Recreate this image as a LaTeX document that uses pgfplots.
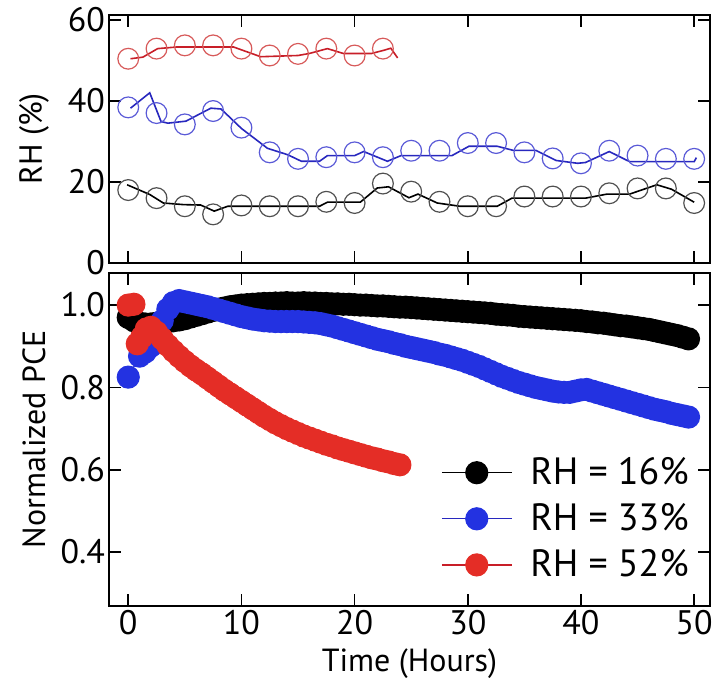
\documentclass[border=0pt]{standalone}
\usepackage{fontspec}
\setmainfont{PT Sans}
\usepackage{pgfplots}
\pgfplotsset{compat=1.18}
\definecolor{cblue}{RGB}{35,50,225}
\definecolor{cred}{RGB}{228,45,38}
\definecolor{lblue}{RGB}{40,40,190}
\definecolor{lred}{RGB}{200,30,40}
\definecolor{oblue}{RGB}{90,90,215}
\definecolor{ored}{RGB}{215,90,90}
\definecolor{oblack}{RGB}{80,80,80}

\pgfplotsset{
  myaxis/.style={
    scale only axis, width=300.5pt,
    xmin=-1.7, xmax=51.4,
    axis line style={line width=1.4pt},
    every tick/.style={line width=0.8pt, black},
    major tick length=6pt,
    tick align=inside,
    xtick={0,10,20,30,40,50},
    /pgf/number format/assume math mode=true,
    tick label style={font=\fontsize{17}{19}\selectfont},
    yticklabel style={xshift=1.5pt},
    xticklabel style={yshift=1.5pt},
    every axis y label/.style={at={(axis description cs:-0.125,0.5)}, rotate=90, anchor=center, font=\fontsize{16}{18}\selectfont},
    every axis x label/.style={at={(axis description cs:0.5,-0.172)}, anchor=center, font=\fontsize{16}{18}\selectfont},
  }
}

\begin{document}
\begin{tikzpicture}
\path[use as bounding box] (-54.5pt,-38.5pt) rectangle (301.5pt,303pt);

% ---------- top panel ----------
\begin{axis}[myaxis, at={(0pt,171.5pt)}, anchor=south west,
  height=124pt, ymin=0, ymax=61.2,
  ytick={0,20,40,60}, xticklabels={}, ylabel={RH (\%)}]
% lines
\addplot[lred, line width=0.8pt] coordinates {
(0.2,50.4) (1.3,50.8) (2.6,52.9) (4.3,53.3) (9.3,53.3) (10.5,52.1) (11.7,50.9)
(15,51.2) (16,51.7) (17.6,52.9) (19,51.7) (21.5,51.7) (22.6,52.5) (23.2,53.0) (23.8,50.6)};
\addplot[lblue, line width=0.8pt] coordinates {
(0.2,38.2) (1.9,42.0) (2.9,34.9) (3.5,34.5) (5.1,35.0) (6.4,36.9) (7.3,38.2) (8.2,38.0)
(10,33.2) (12.3,28.3) (14.1,26.7) (15.3,25.1) (16.9,25.1) (17.6,26.5) (20,26.5) (20.8,27.5)
(22.9,25.1) (24.1,26.5) (28.6,26.5) (30.1,28.8) (32.6,28.8) (34,27.8) (36,27.8) (37.8,25.3)
(39.7,24.6) (40.4,24.8) (42.5,27.5) (44.3,25.0) (50,25.0) (50.2,26.0)};
\addplot[black, line width=0.8pt] coordinates {
(-0.1,19.3) (1.9,16.9) (3.1,14.8) (4.9,14.4) (6.4,14.3) (7.6,12.8) (8.8,14.0) (16.9,14.0)
(17.6,15.0) (20.5,15.0) (22,18.5) (23,18.8) (24.8,16.1) (25.6,17.0) (27.3,14.8) (29.3,14.0)
(32.6,14.0) (33.9,16.0) (40.4,16.0) (42.3,17.0) (44.3,17.0) (46.7,19.3) (48,18.2) (50,15.0)};
% circles
\addplot[only marks, mark=o, mark size=5.2pt, mark options={ored, line width=0.6pt}] coordinates {
(0,50.4) (2.5,52.9) (5,53.7) (7.5,53.7) (10,52.9) (12.5,51.2) (15,51.6) (17.5,52.9) (20,51.2) (22.5,52.9)};
\addplot[only marks, mark=o, mark size=5.2pt, mark options={oblue, line width=0.6pt}] coordinates {
(0,38.4) (2.5,37.0) (5,34.2) (7.5,37.5) (10,33.4) (12.5,27.3) (15,25.7) (17.5,26.1) (20,27.3)
(22.5,26.1) (25,27.7) (27.5,27.7) (30,29.6) (32.5,29.6) (35,27.3) (37.5,25.8) (40,24.6)
(42.5,27.7) (45,26.5) (47.5,25.7) (50,25.7)};
\addplot[only marks, mark=o, mark size=5.2pt, mark options={oblack, line width=0.6pt}] coordinates {
(0,18.0) (2.5,16.0) (5,14.0) (7.5,12.0) (10,14.2) (12.5,14.0) (15,14.0) (17.5,15.1) (20,14.8)
(22.5,19.6) (25,17.6) (27.5,15.1) (30,14.0) (32.5,14.0) (35,16.4) (37.5,16.4) (40,16.4)
(42.5,17.2) (45,18.4) (47.5,18.4) (50,14.8)};
\end{axis}

% ---------- bottom panel ----------
\begin{axis}[myaxis, at={(0pt,0pt)}, anchor=south west,
  height=166.5pt, ymin=0.269, ymax=1.078,
  ytick={0.4,0.6,0.8,1.0}, yticklabels={0.4,0.6,0.8,1.0},
  xlabel={Time (Hours)}, ylabel={Normalized PCE},
  legend style={draw=none, fill=none, at={(0.972,0.065)}, anchor=south east,
    font=\fontsize{19}{21}\selectfont, row sep=4pt, inner sep=0pt,
    cells={anchor=west}},
  legend image code/.code={\draw[mark repeat=2,mark phase=2,#1] plot coordinates {(0pt,0pt) (17.5pt,0pt) (35pt,0pt)}; \path (42pt,0pt);}
  ]
\addplot[black, line width=0.6pt, mark=*, mark size=5.5pt, mark options={solid, fill=black, draw=black}] coordinates {
(0,0.970) (0.5,0.962) (1,0.956) (1.5,0.954) (2,0.954) (2.5,0.956) (3,0.958) (3.5,0.960)
(4,0.962) (4.5,0.964) (5,0.967) (5.5,0.971) (6,0.975) (6.5,0.979) (7,0.983) (7.5,0.987)
(8,0.990) (8.5,0.993) (9,0.996) (9.5,0.998) (10,1.000) (10.5,1.001) (11,1.002) (11.5,1.003)
(12,1.004) (12.5,1.004) (13,1.005) (13.5,1.005) (14,1.006) (14.5,1.005) (15,1.005) (15.5,1.006)
(16,1.005) (16.5,1.005) (17,1.004) (17.5,1.004) (18,1.003) (18.5,1.003) (19,1.002) (19.5,1.002)
(20,1.001) (20.5,1.000) (21,1.000) (21.5,0.999) (22,0.998) (22.5,0.998) (23,0.997) (23.5,0.996)
(24,0.995) (24.5,0.995) (25,0.994) (25.5,0.993) (26,0.992) (26.5,0.991) (27,0.990) (27.5,0.989)
(28,0.988) (28.5,0.987) (29,0.986) (29.5,0.985) (30,0.984) (30.5,0.983) (31,0.982) (31.5,0.981)
(32,0.980) (32.5,0.978) (33,0.977) (33.5,0.976) (34,0.975) (34.5,0.973) (35,0.972) (35.5,0.971)
(36,0.970) (36.5,0.969) (37,0.968) (37.5,0.967) (38,0.966) (38.5,0.965) (39,0.964) (39.5,0.963)
(40,0.962) (40.5,0.960) (41,0.959) (41.5,0.957) (42,0.956) (42.5,0.954) (43,0.952) (43.5,0.950)
(44,0.949) (44.5,0.947) (45,0.945) (45.5,0.943) (46,0.941) (46.5,0.938) (47,0.935) (47.5,0.932)
(48,0.929) (48.5,0.926) (49,0.922) (49.5,0.918)};
\addlegendentry{RH = 16\%}
\addplot[lblue, line width=0.6pt, mark=*, mark size=5.5pt, mark options={solid, fill=cblue, draw=cblue}] coordinates {
(0,0.825) (1,0.876) (1.5,0.886) (2,0.900) (2.5,0.928) (3,0.962) (3.5,0.990) (4,1.006)
(4.5,1.011) (5,1.008) (5.5,1.005) (6,1.002) (6.5,0.999) (7,0.996) (7.5,0.992) (8,0.988)
(8.5,0.984) (9,0.980) (9.5,0.976) (10,0.972) (10.5,0.969) (11,0.966) (11.5,0.964) (12,0.962)
(12.5,0.961) (13,0.960) (13.5,0.960) (14,0.960) (14.5,0.960) (15,0.960) (15.5,0.959) (16,0.958)
(16.5,0.957) (17,0.955) (17.5,0.952) (18,0.949) (18.5,0.945) (19,0.941) (19.5,0.937) (20,0.933)
(20.5,0.929) (21,0.925) (21.5,0.921) (22,0.917) (22.5,0.914) (23,0.911) (23.5,0.907) (24,0.904)
(24.5,0.900) (25,0.897) (25.5,0.894) (26,0.891) (26.5,0.888) (27,0.885) (27.5,0.881) (28,0.878)
(28.5,0.874) (29,0.870) (29.5,0.866) (30,0.861) (30.5,0.856) (31,0.851) (31.5,0.845) (32,0.839)
(32.5,0.833) (33,0.827) (33.5,0.822) (34,0.817) (34.5,0.812) (35,0.808) (35.5,0.804) (36,0.800)
(36.5,0.797) (37,0.794) (37.5,0.791) (38,0.789) (38.5,0.788) (39,0.788) (39.5,0.791) (40,0.794)
(40.5,0.795) (41,0.791) (41.5,0.787) (42,0.783) (42.5,0.779) (43,0.775) (43.5,0.771) (44,0.767)
(44.5,0.763) (45,0.759) (45.5,0.755) (46,0.751) (46.5,0.747) (47,0.744) (47.5,0.741) (48,0.737)
(48.5,0.734) (49,0.731) (49.5,0.728)};
\addlegendentry{RH = 33\%}
\addplot[lred, line width=0.6pt, mark=*, mark size=5.5pt, mark options={solid, fill=cred, draw=cred}] coordinates {
(0,1.000) (0.5,1.002) (0.8,0.906) (1.2,0.922) (1.6,0.942) (2,0.946) (2.5,0.934) (3,0.918)
(3.5,0.902) (4,0.888) (4.5,0.875) (5,0.863) (5.5,0.852) (6,0.842) (6.5,0.833) (7,0.823)
(7.5,0.813) (8,0.803) (8.5,0.793) (9,0.784) (9.5,0.775) (10,0.766) (10.5,0.757) (11,0.748)
(11.5,0.739) (12,0.730) (12.5,0.722) (13,0.714) (13.5,0.707) (14,0.700) (14.5,0.694) (15,0.688)
(15.5,0.682) (16,0.677) (16.5,0.672) (17,0.667) (17.5,0.662) (18,0.658) (18.5,0.653) (19,0.649)
(19.5,0.645) (20,0.641) (20.5,0.637) (21,0.633) (21.5,0.629) (22,0.626) (22.5,0.622) (23,0.619)
(23.5,0.615) (24,0.612)};
\addlegendentry{RH = 52\%}
\end{axis}
\end{tikzpicture}
\end{document}
